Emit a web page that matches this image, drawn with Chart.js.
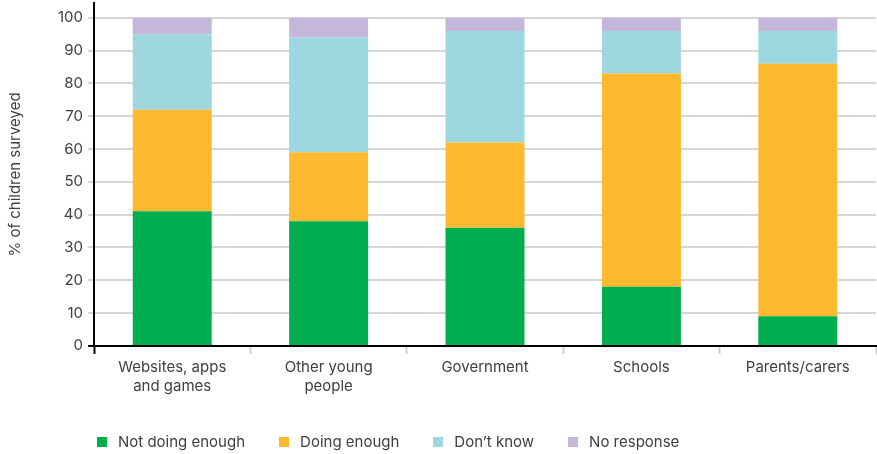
<!DOCTYPE html>
<html lang="en">
  <head>
    <meta charset="UTF-8" />
    <script src="https://cdn.jsdelivr.net/npm/chart.js@4.4.1/dist/chart.umd.min.js"></script>
    <title>Children surveyed</title>
    <style>
      body { margin: 0; background: #fff; font-family: Inter, sans-serif; }
      #wrap { position: relative; width: 877px; height: 454px; }
      #legend { position: absolute; left: 97px; top: 432px; display: flex; font-size: 15px; color: #404040; line-height: 20px; }
      #legend span.item { display: flex; align-items: center; margin-right: 34px; }
      #legend i { display: inline-block; width: 10px; height: 10px; margin-right: 11px; }
    </style>
  </head>
  <body>
    <div id="wrap">
      <canvas id="chart" width="877" height="454"></canvas>
      <div id="legend"></div>
    </div>
    <script>
      const categories = [
        ["Websites, apps", "and games"],
        ["Other young", "people"],
        "Government",
        "Schools",
        "Parents/carers",
      ];
      const notDoingEnough = [41, 38, 36, 18, 9];
      const doingEnough = [31, 21, 26, 65, 77];
      const dontKnow = [23, 35, 34, 13, 10];
      const noResponse = [5, 6, 4, 4, 4];
      const yTicks = [0, 10, 20, 30, 40, 50, 60, 70, 80, 90, 100];

      const series = [
        { label: "Not doing enough", data: notDoingEnough, color: "#00ae4f" },
        { label: "Doing enough", data: doingEnough, color: "#fdba2f" },
        { label: "Don\u2019t know", data: dontKnow, color: "#9ed8df" },
        { label: "No response", data: noResponse, color: "#c5b7d9" },
      ];

      const textColor = "#404040";
      const gridColor = "#d6d6d6";
      const fontFamily = "Inter";

      const ctx = document.getElementById("chart").getContext("2d");
      const chart = new Chart(ctx, {
        type: "bar",
        data: {
          labels: categories,
          datasets: series.map((s) => ({
            label: s.label,
            data: s.data,
            backgroundColor: s.color,
            borderWidth: 0,
            barPercentage: 0.505,
            categoryPercentage: 1,
          })),
        },
        options: {
          responsive: false,
          animation: false,
          layout: { padding: { top: 3, right: 1, bottom: 54, left: 0 } },
          plugins: {
            legend: { display: false },
            tooltip: { enabled: false },
          },
          scales: {
            x: {
              stacked: true,
              border: { color: "#000", width: 2 },
              grid: {
                drawOnChartArea: false,
                drawTicks: true,
                tickLength: 8,
                tickColor: (c) => (c.index === 0 ? "#000" : "#d0d0d0"),
                tickWidth: 2,
                offset: true,
              },
              ticks: {
                color: textColor,
                font: { family: fontFamily, size: 15, lineHeight: 1.27 },
                padding: 4,
                maxRotation: 0,
              },
            },
            y: {
              stacked: true,
              min: 0,
              max: 104.5,
              border: { color: "#000", width: 2 },
              afterBuildTicks: (axis) => {
                axis.ticks = yTicks.map((v) => ({ value: v }));
              },
              afterFit: (axis) => {
                axis.paddingTop = 0;
              },
              grid: {
                color: gridColor,
                lineWidth: 2,
                tickLength: 6,
                tickColor: (c) => (c.tick && c.tick.value === 0 ? "#000" : gridColor),
                tickWidth: 2,
              },
              ticks: {
                color: textColor,
                font: { family: fontFamily, size: 15 },
                padding: 5,
              },
              title: {
                display: true,
                text: "% of children surveyed",
                color: textColor,
                font: { family: fontFamily, size: 15 },
                padding: { top: 6, bottom: 29 },
              },
            },
          },
        },
      });

      const legend = document.getElementById("legend");
      series.forEach((s) => {
        const item = document.createElement("span");
        item.className = "item";
        const box = document.createElement("i");
        box.style.background = s.color;
        item.appendChild(box);
        item.appendChild(document.createTextNode(s.label));
        legend.appendChild(item);
      });
    </script>
  </body>
</html>
